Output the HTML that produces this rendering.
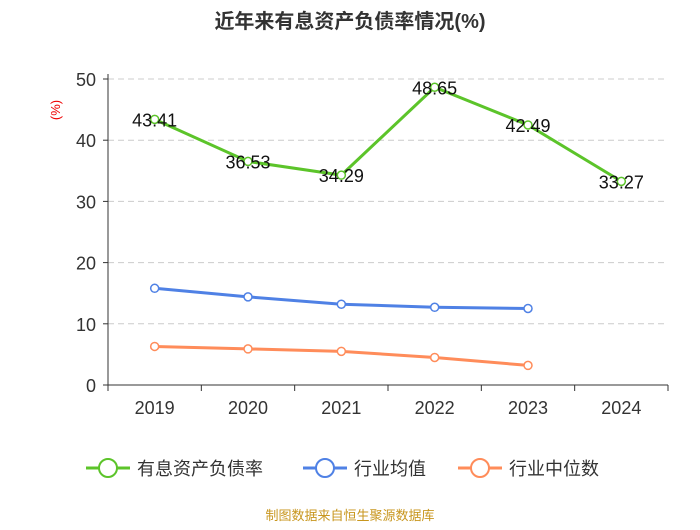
<!DOCTYPE html>
<html><head><meta charset="utf-8"><style>
body{margin:0;background:#fff;font-family:"Liberation Sans","Noto Sans CJK SC",sans-serif}
</style></head><body>
<svg id="c" width="700" height="525" xmlns="http://www.w3.org/2000/svg">
<text x="350" y="28" text-anchor="middle" font-size="20" font-weight="bold" fill="#333" font-family="Liberation Sans,Noto Sans CJK SC,sans-serif">近年来有息资产负债率情况(%)</text>
<text x="0" y="0" transform="translate(60,110) rotate(-90)" text-anchor="middle" font-size="13" fill="#e00">(%)</text>
<g id="grid"></g><g id="axes"></g><g id="series"></g>
<g font-size="18" fill="#333" font-family="Liberation Sans,Noto Sans CJK SC,sans-serif">
 <g><line x1="86" y1="468" x2="130" y2="468" stroke="#5cc42a" stroke-width="3"/><circle cx="108" cy="468" r="9" fill="#fff" stroke="#5cc42a" stroke-width="2"/><text x="137" y="475">有息资产负债率</text></g>
 <g><line x1="303" y1="468" x2="347" y2="468" stroke="#4f81e5" stroke-width="3"/><circle cx="325" cy="468" r="9" fill="#fff" stroke="#4f81e5" stroke-width="2"/><text x="354" y="475">行业均值</text></g>
 <g><line x1="458" y1="468" x2="502" y2="468" stroke="#ff8c5a" stroke-width="3"/><circle cx="480" cy="468" r="9" fill="#fff" stroke="#ff8c5a" stroke-width="2"/><text x="509" y="475">行业中位数</text></g>
</g>
<text x="350" y="520" text-anchor="middle" font-size="13" fill="#c8961e">制图数据来自恒生聚源数据库</text>
</svg>
<script>
const categories=["2019","2020","2021","2022","2023","2024"];
const debtRatio=[43.41,36.53,34.29,48.65,42.49,33.27];
const industryAvg=[15.8,14.4,13.2,12.7,12.5];
const industryMedian=[6.3,5.9,5.5,4.5,3.2];
const yTicks=[0,10,20,30,40,50];
const NS="http://www.w3.org/2000/svg";
const X0=108,X1=668,Y0=385,Y1=79;
const bw=(X1-X0)/categories.length;
const xs=i=>X0+bw*(i+0.5);
const ys=v=>Y0-(v/50)*(Y0-Y1);
function mk(t,a,p){const e=document.createElementNS(NS,t);for(const k in a)e.setAttribute(k,a[k]);p.appendChild(e);return e;}
const grid=document.getElementById('grid'),axes=document.getElementById('axes'),ser=document.getElementById('series');
yTicks.forEach(v=>{
 if(v>0){const g=mk('line',{x1:X0,x2:X1,y1:ys(v),y2:ys(v),stroke:'#ccc','stroke-dasharray':'6,4'},grid);
 
 }
 mk('line',{x1:X0-5,x2:X0,y1:ys(v),y2:ys(v),stroke:'#333'},axes);
 const t=mk('text',{x:X0-12,y:ys(v)+7,'text-anchor':'end','font-size':18,fill:'#333'},axes);t.textContent=v;
 
 
});
mk('line',{x1:X0,x2:X0,y1:Y1-5,y2:Y0,stroke:'#333'},axes);
mk('line',{x1:X0,x2:X1,y1:Y0,y2:Y0,stroke:'#333'},axes);
for(let i=0;i<=categories.length;i++)mk('line',{x1:X0+bw*i,x2:X0+bw*i,y1:Y0,y2:Y0+6,stroke:'#333'},axes);
categories.forEach((c,i)=>{const t=mk('text',{x:xs(i),y:Y0+29,'text-anchor':'middle','font-size':18,fill:'#333'},axes);t.textContent=c;
 
 });
function series(data,color,name,labels){
 const g=mk('g',{},ser);
 
 
 mk('polyline',{points:data.map((v,i)=>xs(i)+','+ys(v)).join(' '),fill:'none',stroke:color,'stroke-width':3},g);
 data.forEach((v,i)=>{const p=mk('circle',{cx:xs(i),cy:ys(v),r:4,fill:'#fff',stroke:color,'stroke-width':1.5},g);
  
  
  if(labels){const t=mk('text',{x:xs(i),y:ys(v)+7,'text-anchor':'middle','font-size':18,fill:'#111'},g);t.textContent=v.toFixed(2);
   
   }
 });
}
series(industryMedian,'#ff8c5a','industry-median-line',false);
series(industryAvg,'#4f81e5','industry-avg-line',false);
series(debtRatio,'#5cc42a','debt-ratio-line',true);
</script>
</body></html>
